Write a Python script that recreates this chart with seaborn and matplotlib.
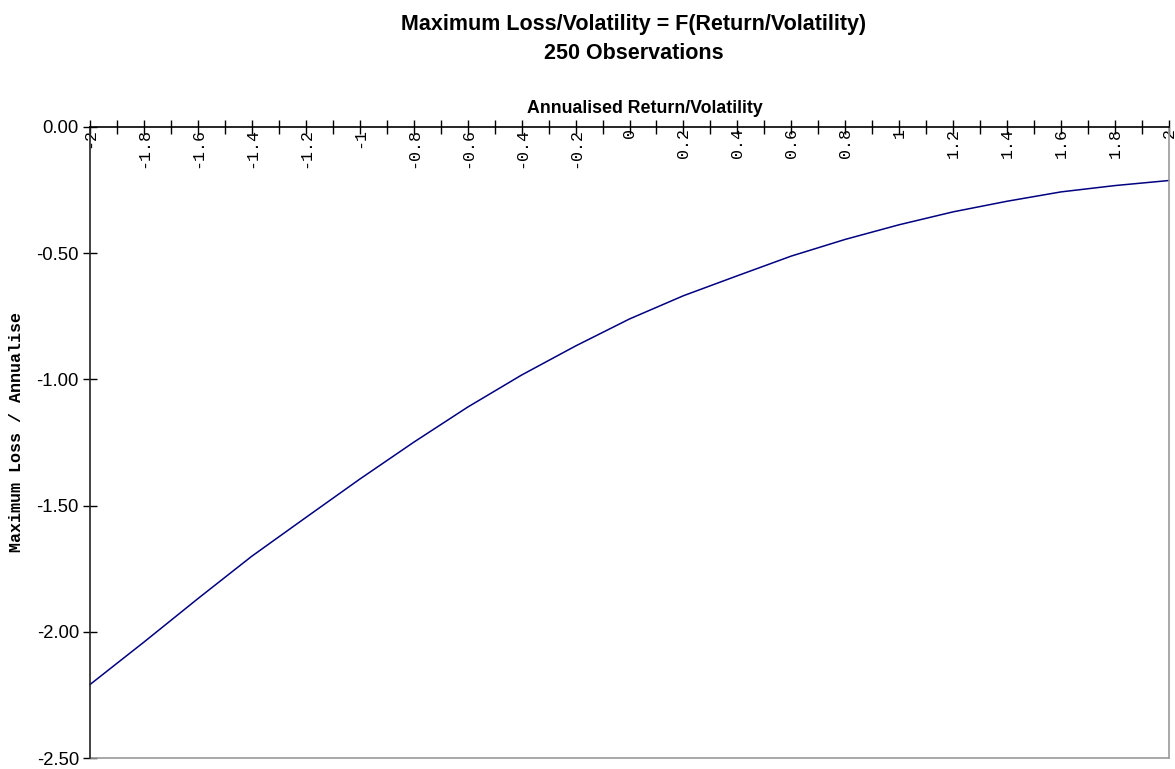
import matplotlib
matplotlib.use("Agg")
import matplotlib.pyplot as plt
import numpy as np
import pandas as pd
import seaborn as sns
from matplotlib.ticker import MultipleLocator, FixedLocator

# Annualised return / volatility ratio and the resulting maximum loss / volatility
ratio = [-2.0, -1.8, -1.6, -1.4, -1.2, -1.0, -0.8, -0.6, -0.4, -0.2, 0.0,
         0.2, 0.4, 0.6, 0.8, 1.0, 1.2, 1.4, 1.6, 1.8, 2.0]
max_loss = [-2.208, -2.040, -1.868, -1.700, -1.547, -1.395, -1.249, -1.110,
            -0.983, -0.868, -0.761, -0.669, -0.590, -0.512, -0.446, -0.388,
            -0.337, -0.295, -0.258, -0.233, -0.213]

x_ticks = [-2.0, -1.8, -1.6, -1.4, -1.2, -1.0, -0.8, -0.6, -0.4, -0.2, 0.0,
           0.2, 0.4, 0.6, 0.8, 1.0, 1.2, 1.4, 1.6, 1.8, 2.0]
x_tick_labels = ["-2", "-1.8", "-1.6", "-1.4", "-1.2", "-1", "-0.8", "-0.6",
                 "-0.4", "-0.2", "0", "0.2", "0.4", "0.6", "0.8", "1", "1.2",
                 "1.4", "1.6", "1.8", "2"]
y_ticks = [0.0, -0.5, -1.0, -1.5, -2.0, -2.5]

title_text = "Maximum Loss/Volatility = F(Return/Volatility)\n250 Observations"
x_title = "Annualised Return/Volatility"
y_title = "Maximum Loss / Annualise"

sns.set_theme(style="white")
plt.rcParams["font.family"] = ["Liberation Sans", "DejaVu Sans"]
plt.rcParams["axes.unicode_minus"] = False
plt.rcParams["text.color"] = "black"
plt.rcParams["axes.labelcolor"] = "black"
plt.rcParams["xtick.color"] = "black"
plt.rcParams["ytick.color"] = "black"

df = pd.DataFrame({"ratio": ratio, "max_loss": max_loss})

fig = plt.figure(figsize=(11.75, 7.69), dpi=100)
ax = fig.add_axes([90 / 1175, 1 - 758.3 / 769, 1079 / 1175, 631.6 / 769])

sns.lineplot(data=df, x="ratio", y="max_loss", ax=ax, color="#000080",
             linewidth=1.1, clip_on=False)

ax.set_xlim(-2, 2)
ax.set_ylim(-2.5, 0)

# x axis runs along the y = 0 line at the top of the frame
ax.spines["bottom"].set_position(("data", 0))
ax.spines["bottom"].set_color("black")
ax.spines["bottom"].set_linewidth(1.2)
ax.spines["top"].set_visible(False)
ax.spines["left"].set_color("#222222")
ax.spines["left"].set_linewidth(1.2)
ax.spines["right"].set_color("#9a9a9a")
ax.spines["right"].set_linewidth(1.2)
ax.axhline(-2.5, color="#9a9a9a", linewidth=1.2, clip_on=False)

ax.xaxis.set_major_locator(FixedLocator(x_ticks))
ax.set_xticklabels(x_tick_labels, rotation=90, family="Liberation Mono",
                   fontsize=12)
ax.xaxis.set_minor_locator(MultipleLocator(0.1))
ax.tick_params(axis="x", which="both", direction="inout", length=10,
               width=1, color="black", bottom=True, top=False, pad=-4)

ax.set_yticks(y_ticks)
ax.set_yticklabels([f"{v:.2f}" for v in y_ticks], fontsize=13.3)
ax.tick_params(axis="y", direction="inout", length=10, width=1,
               color="black", left=True, pad=3)

ax.xaxis.set_label_position("top")
ax.set_xlabel(x_title, fontsize=12.8, fontweight="bold", va="center")
ax.xaxis.set_label_coords((645 - 90) / 1079, 1 + 18 / 631.6)
ax.set_ylabel("")
fig.text(17 / 1175, 1 - 432 / 769, y_title, rotation=90, ha="center",
         va="center", family="Liberation Mono", fontweight="bold",
         fontsize=12)

fig.text(634 / 1175, 1 - 39 / 769, title_text, ha="center", va="center",
         fontsize=15.5, fontweight="bold", linespacing=1.5)

fig.savefig("out.png", dpi=100)
